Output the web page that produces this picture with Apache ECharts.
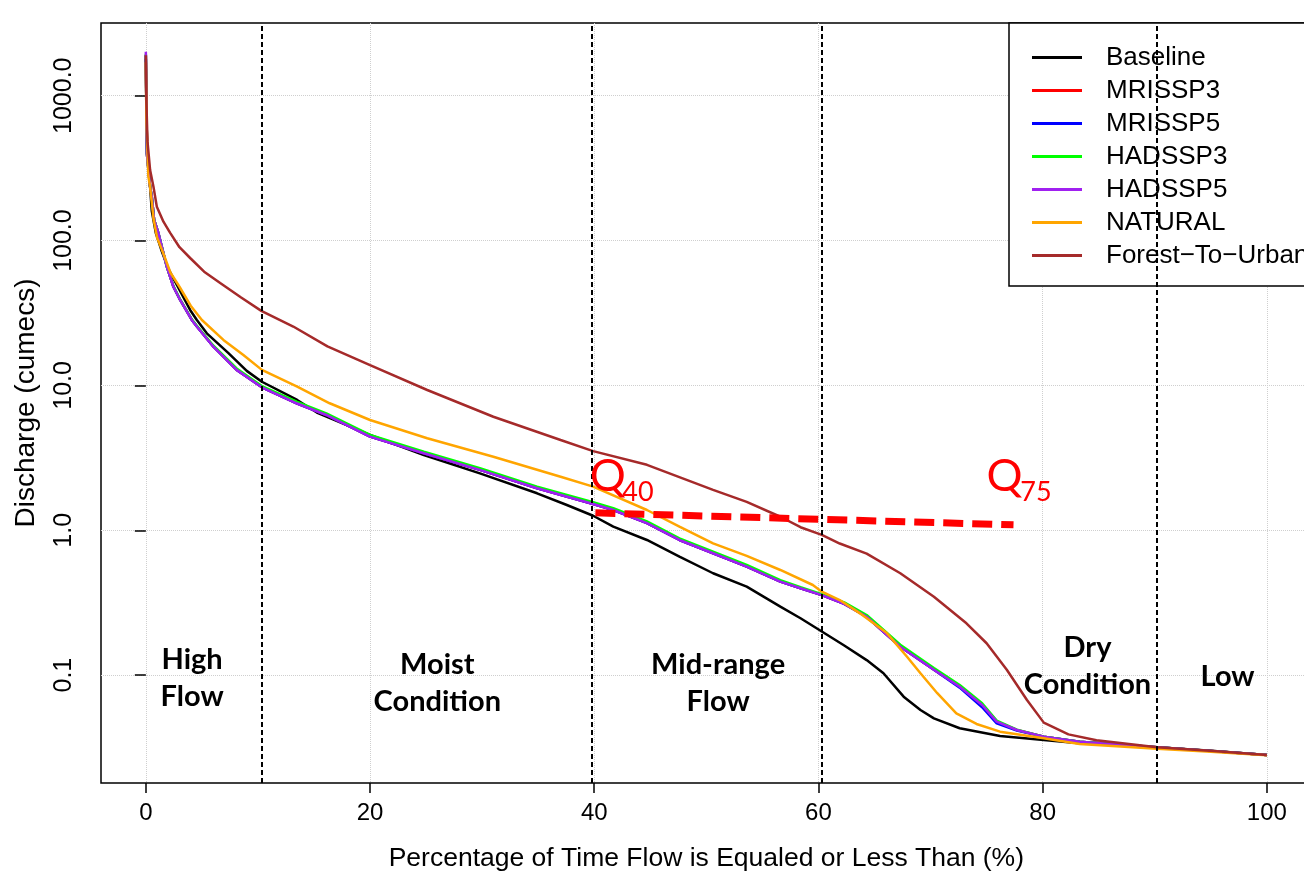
<!DOCTYPE html>
<html>
<head>
<meta charset="utf-8">
<script src="https://cdn.jsdelivr.net/npm/echarts@6/dist/echarts.min.js"></script>
<style>
  html, body { margin: 0; padding: 0; background: #fff; }
  #chart { width: 1304px; height: 874px; }
</style>
</head>
<body>
<div id="chart"></div>
<script>
// flow duration curves, values as [percent, discharge]
const baseline = [[0, 1800], [0.05, 700], [0.15, 400], [0.38, 235], [0.53, 160], [0.9, 112], [1.43, 84], [2.0, 64], [2.85, 48], [3.95, 33.2], [4.55, 28.3], [5.44, 22.9], [7.37, 16.7], [9.0, 12.6], [10.35, 10.6], [13.5, 7.94], [15.25, 6.5], [20, 4.55], [24.8, 3.31], [29.8, 2.47], [34.9, 1.80], [37.5, 1.50], [39.9, 1.26], [41.7, 1.06], [44.7, 0.857], [47.6, 0.657], [50.6, 0.505], [53.6, 0.408], [56.6, 0.297], [58.4, 0.247], [60.3, 0.20], [62.3, 0.16], [64.3, 0.127], [65.8, 0.103], [67.6, 0.071], [69.1, 0.0574], [70.3, 0.0503], [72.6, 0.043], [76.2, 0.038], [80.1, 0.0357], [83.3, 0.0339], [90.2, 0.0318], [95, 0.0300], [100, 0.0281]]
const mriSsp3 = [[0, 1900], [0.05, 800], [0.09, 400], [0.38, 235], [0.53, 201], [0.74, 139], [1.13, 112], [1.57, 81.7], [1.87, 66], [2.46, 48], [3.06, 38.9], [4.1, 28.3], [4.55, 25.5], [6.03, 18.5], [8.1, 12.8], [10.35, 9.7], [13.5, 7.5], [16.1, 6.25], [20, 4.43], [24.8, 3.40], [29.8, 2.61], [34.9, 1.95], [39.9, 1.52], [41.7, 1.38], [44.7, 1.12], [47.6, 0.857], [50.6, 0.694], [53.6, 0.561], [56.6, 0.442], [58.4, 0.398], [60.3, 0.357], [62.3, 0.31], [64.3, 0.253], [67.3, 0.157], [70.3, 0.109], [72.6, 0.0832], [74.6, 0.0622], [75.9, 0.0477], [77.7, 0.0418], [80.1, 0.0376], [83.3, 0.0347], [90.2, 0.0318], [95, 0.0299], [100, 0.0281]]
const mriSsp5 = [[0, 1900], [0.05, 800], [0.09, 400], [0.38, 235], [0.53, 201], [0.74, 139], [1.13, 112], [1.57, 81.7], [1.87, 66], [2.46, 48], [3.06, 38.9], [4.1, 28.3], [4.55, 25.5], [6.03, 18.5], [8.1, 12.8], [10.35, 9.7], [13.5, 7.5], [16.1, 6.25], [20, 4.43], [24.8, 3.40], [29.8, 2.61], [34.9, 1.95], [39.9, 1.52], [41.7, 1.38], [44.7, 1.12], [47.6, 0.857], [50.6, 0.694], [53.6, 0.561], [56.6, 0.442], [58.4, 0.398], [60.3, 0.357], [62.3, 0.31], [64.3, 0.253], [67.3, 0.157], [70.3, 0.109], [72.6, 0.0820], [74.6, 0.0600], [75.9, 0.0465], [77.7, 0.0415], [80.1, 0.0376], [83.3, 0.0347], [90.2, 0.0318], [95, 0.0299], [100, 0.0281]]
const hadSsp3 = [[0, 1950], [0.05, 800], [0.09, 400], [0.38, 235], [0.53, 201], [0.74, 139], [1.13, 112], [1.57, 81.7], [1.87, 66], [2.46, 48.5], [3.06, 39.3], [4.1, 28.6], [4.55, 25.8], [6.03, 18.8], [8.1, 13.1], [10.35, 9.9], [13.5, 7.7], [16.1, 6.42], [20, 4.55], [24.8, 3.49], [29.8, 2.68], [34.9, 2.0], [39.9, 1.56], [41.7, 1.42], [44.7, 1.15], [47.6, 0.88], [50.6, 0.712], [53.6, 0.576], [56.6, 0.452], [58.4, 0.405], [60.3, 0.362], [62.3, 0.318], [64.3, 0.260], [67.3, 0.162], [70.3, 0.112], [72.6, 0.0855], [74.6, 0.0640], [75.9, 0.0485], [77.7, 0.0420], [80.1, 0.0376], [83.3, 0.0347], [90.2, 0.0318], [95, 0.0299], [100, 0.0281]]
const hadSsp5 = [[0, 2015], [0.05, 800], [0.09, 400], [0.38, 235], [0.53, 201], [0.74, 139], [1.13, 112], [1.57, 81.7], [1.87, 66], [2.46, 48], [3.06, 38.9], [4.1, 28.3], [4.55, 25.5], [6.03, 18.5], [8.1, 12.8], [10.35, 9.7], [13.5, 7.5], [16.1, 6.25], [20, 4.43], [24.8, 3.40], [29.8, 2.61], [34.9, 1.95], [39.9, 1.52], [41.7, 1.38], [44.7, 1.12], [47.6, 0.857], [50.6, 0.694], [53.6, 0.561], [56.6, 0.442], [58.4, 0.398], [60.3, 0.357], [62.3, 0.31], [64.3, 0.253], [67.3, 0.157], [70.3, 0.109], [72.6, 0.0832], [74.6, 0.0622], [75.9, 0.0477], [77.7, 0.0418], [80.1, 0.0376], [83.3, 0.0347], [90.2, 0.0318], [95, 0.0299], [100, 0.0281]]
const natural = [[0, 1700], [0.05, 700], [0.15, 402], [0.23, 276], [0.38, 235], [0.7, 139], [1.0, 105], [1.6, 80], [2.2, 60], [3.0, 48], [4.0, 35.5], [5.0, 28.3], [6.92, 20.6], [8.7, 16.2], [10.35, 12.8], [13.5, 9.8], [16.4, 7.53], [20, 5.77], [25.1, 4.32], [31.0, 3.22], [37.0, 2.34], [39.9, 2.0], [44.7, 1.38], [47.6, 1.06], [50.6, 0.813], [53.6, 0.665], [56.6, 0.532], [59.5, 0.419], [60.3, 0.377], [61.9, 0.33], [63.7, 0.267], [66.1, 0.195], [67.9, 0.134], [69.1, 0.103], [70.6, 0.075], [72.3, 0.0545], [74.1, 0.046], [76.2, 0.0407], [80.1, 0.0366], [83.3, 0.0335], [90.2, 0.031], [95, 0.0296], [100, 0.028]]
const forestToUrban = [[0, 1900], [0.05, 900], [0.15, 480], [0.38, 307], [0.68, 235], [0.98, 171], [1.57, 135], [2.17, 113], [3.0, 90], [3.95, 75.8], [5.2, 61], [6.63, 51], [8.5, 40.5], [10.3, 32.7], [13.15, 25.5], [16.2, 18.6], [20, 13.8], [25.1, 9.3], [31.0, 6.08], [37.0, 4.2], [39.9, 3.52], [44.7, 2.83], [50.6, 1.90], [53.6, 1.57], [56.6, 1.24], [58.4, 1.05], [60.3, 0.93], [61.9, 0.81], [64.3, 0.69], [67.3, 0.505], [70.3, 0.348], [73.2, 0.228], [75.0, 0.166], [76.8, 0.109], [78.6, 0.0674], [80.1, 0.047], [82.3, 0.039], [84.8, 0.0355], [90.2, 0.0318], [95.2, 0.0299], [100, 0.0281]]

const curveNames = ['Baseline', 'MRISSP3', 'MRISSP5', 'HADSSP3', 'HADSSP5', 'NATURAL', 'Forest-To-Urban']
const curveColors = ['#000000', '#ff0000', '#0000ff', '#00ff00', '#a020f0', '#ffa500', '#a52a2a']
const curveData = [baseline, mriSsp3, mriSsp5, hadSsp3, hadSsp5, natural, forestToUrban]

// axis ticks
const xTicks = [0, 20, 40, 60, 80, 100]
const yTicks = [0.1, 1, 10, 100, 1000]

// flow regime boundaries and their labels
const regimeBreaks = [10.35, 39.8, 60.3, 90.2]
const regimeX = [4.13, 26.0, 51.05, 84.0, 96.5]
const regimeY = [0.0948, 0.0883, 0.0883, 0.1148, 0.0971]
const regimeText = ['High\nFlow', 'Moist\nCondition', 'Mid-range\nFlow', 'Dry\nCondition', 'Low']

// Q40 -> Q75 annotation
const qLine = [[40.1, 1.32], [77.4, 1.09]]
const qX = [41.2, 76.6]
const qY = [2.37, 2.37]
const qSubX = [43.9, 79.4]
const qSubY = [1.82, 1.82]
const qSub = ['40', '75']

const FONT = '"Liberation Sans", Arial, sans-serif'
const BOLD = 'Lato, "Open Sans", sans-serif'

const seriesData = curveData.map((d, i) => ({
    type: 'line',
    name: curveNames[i],
    data: d,
    symbol: 'none',
    showSymbol: false,
    silent: true,
    z: 2,
    lineStyle: { color: curveColors[i], width: 2.5 },
    itemStyle: { color: curveColors[i] }
}))

// dashed red Q line
seriesData.push({
    type: 'line',
    name: 'qline',
    data: qLine,
    symbol: 'none',
    silent: true,
    z: 4,
    lineStyle: { color: '#ff0000', width: 7, type: [20, 9], cap: 'butt' }
})

// hidden-marker scatter used only to carry text labels
function textSeries(name, xs, ys, texts, label) {
    return {
        type: 'scatter',
        name: name,
        symbolSize: 1,
        silent: true,
        z: 5,
        itemStyle: { color: 'rgba(0,0,0,0)', opacity: 1 },
        data: xs.map((x, i) => ({ value: [x, ys[i]], name: texts[i] })),
        label: Object.assign({ show: true, position: 'inside', opacity: 1, formatter: p => p.name }, label)
    }
}

const regimes = textSeries('regimes', regimeX, regimeY, regimeText, {
    color: '#000', fontFamily: BOLD, fontWeight: 'bold', fontSize: 29, lineHeight: 37, align: 'center'
})
regimes.markLine = {
    silent: true,
    symbol: ['none', 'none'],
    label: { show: false },
    lineStyle: { color: '#000', type: [5, 3], width: 2, opacity: 1 },
    data: regimeBreaks.map(v => ({ xAxis: v }))
}
seriesData.push(regimes)
seriesData.push(textSeries('qtext', qX, qY, ['Q', 'Q'], { color: '#ff0000', fontFamily: BOLD, fontSize: 45 }))
seriesData.push(textSeries('qsub', qSubX, qSubY, qSub, { color: '#ff0000', fontFamily: BOLD, fontSize: 27 }))

const cs = echarts.init(document.getElementById('chart'))
const option = {
    animation: false,
    backgroundColor: '#fff',
    grid: {
        left: 101,
        top: 23,
        width: 1210.7,
        height: 760,
        show: true,
        borderColor: '#000',
        borderWidth: 1.5,
        backgroundColor: 'rgba(0,0,0,0)',
        outerBoundsMode: 'none'
    },
    xAxis: {
        type: 'value',
        min: -4,
        max: 104,
        axisLine: { show: false },
        axisTick: { show: true, length: 10, customValues: xTicks, lineStyle: { color: '#000', width: 1.5 } },
        axisLabel: { customValues: xTicks, margin: 18, color: '#000', fontFamily: FONT, fontSize: 24 },
        splitLine: { show: true, lineStyle: { color: '#cfcfcf', type: 'dotted', width: 1 } },
        name: 'Percentage of Time Flow is Equaled or Less Than (%)',
        nameLocation: 'middle',
        nameGap: 62,
        nameTextStyle: { color: '#000', fontFamily: FONT, fontSize: 26.5 }
    },
    yAxis: {
        type: 'log',
        logBase: 10,
        min: 0.018,
        max: 3177,
        axisLine: { show: false },
        axisTick: { show: true, length: 11, customValues: yTicks, lineStyle: { color: '#000', width: 1.5 } },
        axisLabel: {
            customValues: yTicks,
            rotate: 90,
            margin: 24,
            color: '#000',
            fontFamily: FONT,
            fontSize: 25,
            formatter: v => Number(v).toFixed(1)
        },
        splitLine: { show: true, lineStyle: { color: '#cfcfcf', type: 'dotted', width: 1 } },
        name: 'Discharge (cumecs)',
        nameLocation: 'middle',
        nameGap: 61,
        nameTextStyle: { color: '#000', fontFamily: FONT, fontSize: 28 }
    },
    legend: {
        data: curveNames,
        orient: 'vertical',
        left: 1009,
        top: 23,
        padding: [18, 20, 14, 23],
        itemGap: 0,
        itemWidth: 50,
        itemHeight: 3,
        icon: 'rect',
        selectedMode: false,
        backgroundColor: '#fff',
        borderColor: '#000',
        borderWidth: 1.5,
        borderRadius: 0,
        formatter: name => name.replace(/-/g, '\u2212'),
        textStyle: { color: '#000', fontFamily: FONT, fontSize: 26, lineHeight: 33, padding: [0, 0, 0, 19] }
    },
    series: seriesData
}
cs.setOption(option)
</script>
</body>
</html>
